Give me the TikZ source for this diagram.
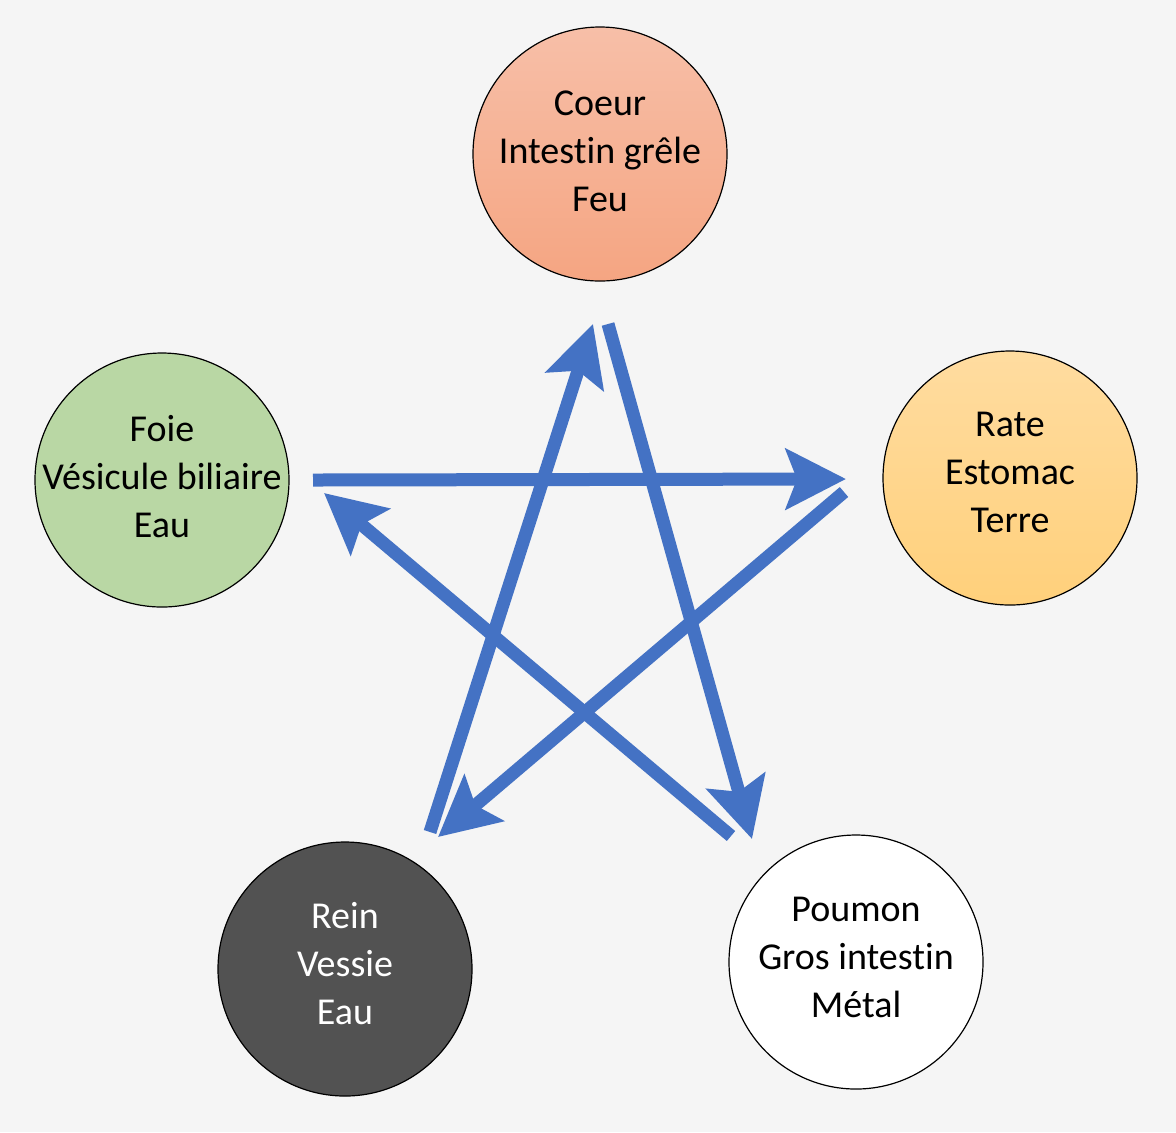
\documentclass[tikz,border=0pt]{standalone}
\usepackage{fontspec}
\setmainfont{Carlito}[Ligatures=NoCommon]
\usetikzlibrary{arrows.meta}
\definecolor{bg}{HTML}{F5F5F5}
\definecolor{arrowblue}{HTML}{4472C4}
\definecolor{feutop}{HTML}{F7BFA8}
\definecolor{feubot}{HTML}{F5A582}
\definecolor{foiefill}{HTML}{B9D7A4}
\definecolor{ratetop}{HTML}{FFDCA0}
\definecolor{ratebot}{HTML}{FFD07B}
\definecolor{reinfill}{HTML}{525252}
\begin{document}
\begin{tikzpicture}[x=0.5pt,y=-0.5pt,
  organ/.style={circle, draw=black, line width=0.6pt, minimum size=127pt, inner sep=0pt},
  organtext/.style={align=center, inner sep=0pt, font=\fontsize{19}{24}\selectfont},
  flow/.style={draw=arrowblue, line width=6.5pt, -{Stealth[length=30pt,width=30pt,inset=5.5pt]}}]
\fill[bg] (0,0) rectangle (1176,1132);
\useasboundingbox (0,0) rectangle (1176,1132);
\node[organ, top color=feutop, bottom color=feubot] (coeur) at (600,154) {};
\node[organ, fill=foiefill] (foie) at (162,480) {};
\node[organ, top color=ratetop, bottom color=ratebot] (rate) at (1010,478) {};
\node[organ, fill=reinfill] (rein) at (345,969) {};
\node[organ, fill=white] (poumon) at (856,962) {};
\node[organtext] (coeurtxt) at ([yshift=1.5pt]coeur.center) {Coeur\\Intestin grêle\\Feu};
\node[organtext] (foietxt) at ([yshift=1.5pt]foie.center) {Foie\\Vésicule biliaire\\Eau};
\node[organtext] (ratetxt) at ([yshift=3pt]rate.center) {Rate\\Estomac\\Terre};
\node[organtext, text=white] (reintxt) at ([yshift=2.5pt]rein.center) {Rein\\Vessie\\Eau};
\node[organtext] (poumontxt) at ([yshift=2.5pt]poumon.center) {Poumon\\Gros intestin\\Métal};
\coordinate (s1) at (313,480); \coordinate (t1) at (846,479);
\coordinate (s2) at (844,492); \coordinate (t2) at (438,837);
\coordinate (s3) at (430,832); \coordinate (t3) at (593,324);
\coordinate (s4) at (608,324); \coordinate (t4) at (752,839);
\coordinate (s5) at (731,836); \coordinate (t5) at (324,493);
\draw[flow] (s1) -- (t1);
\draw[flow] (s2) -- (t2);
\draw[flow] (s3) -- (t3);
\draw[flow] (s4) -- (t4);
\draw[flow] (s5) -- (t5);
\end{tikzpicture}
\end{document}
